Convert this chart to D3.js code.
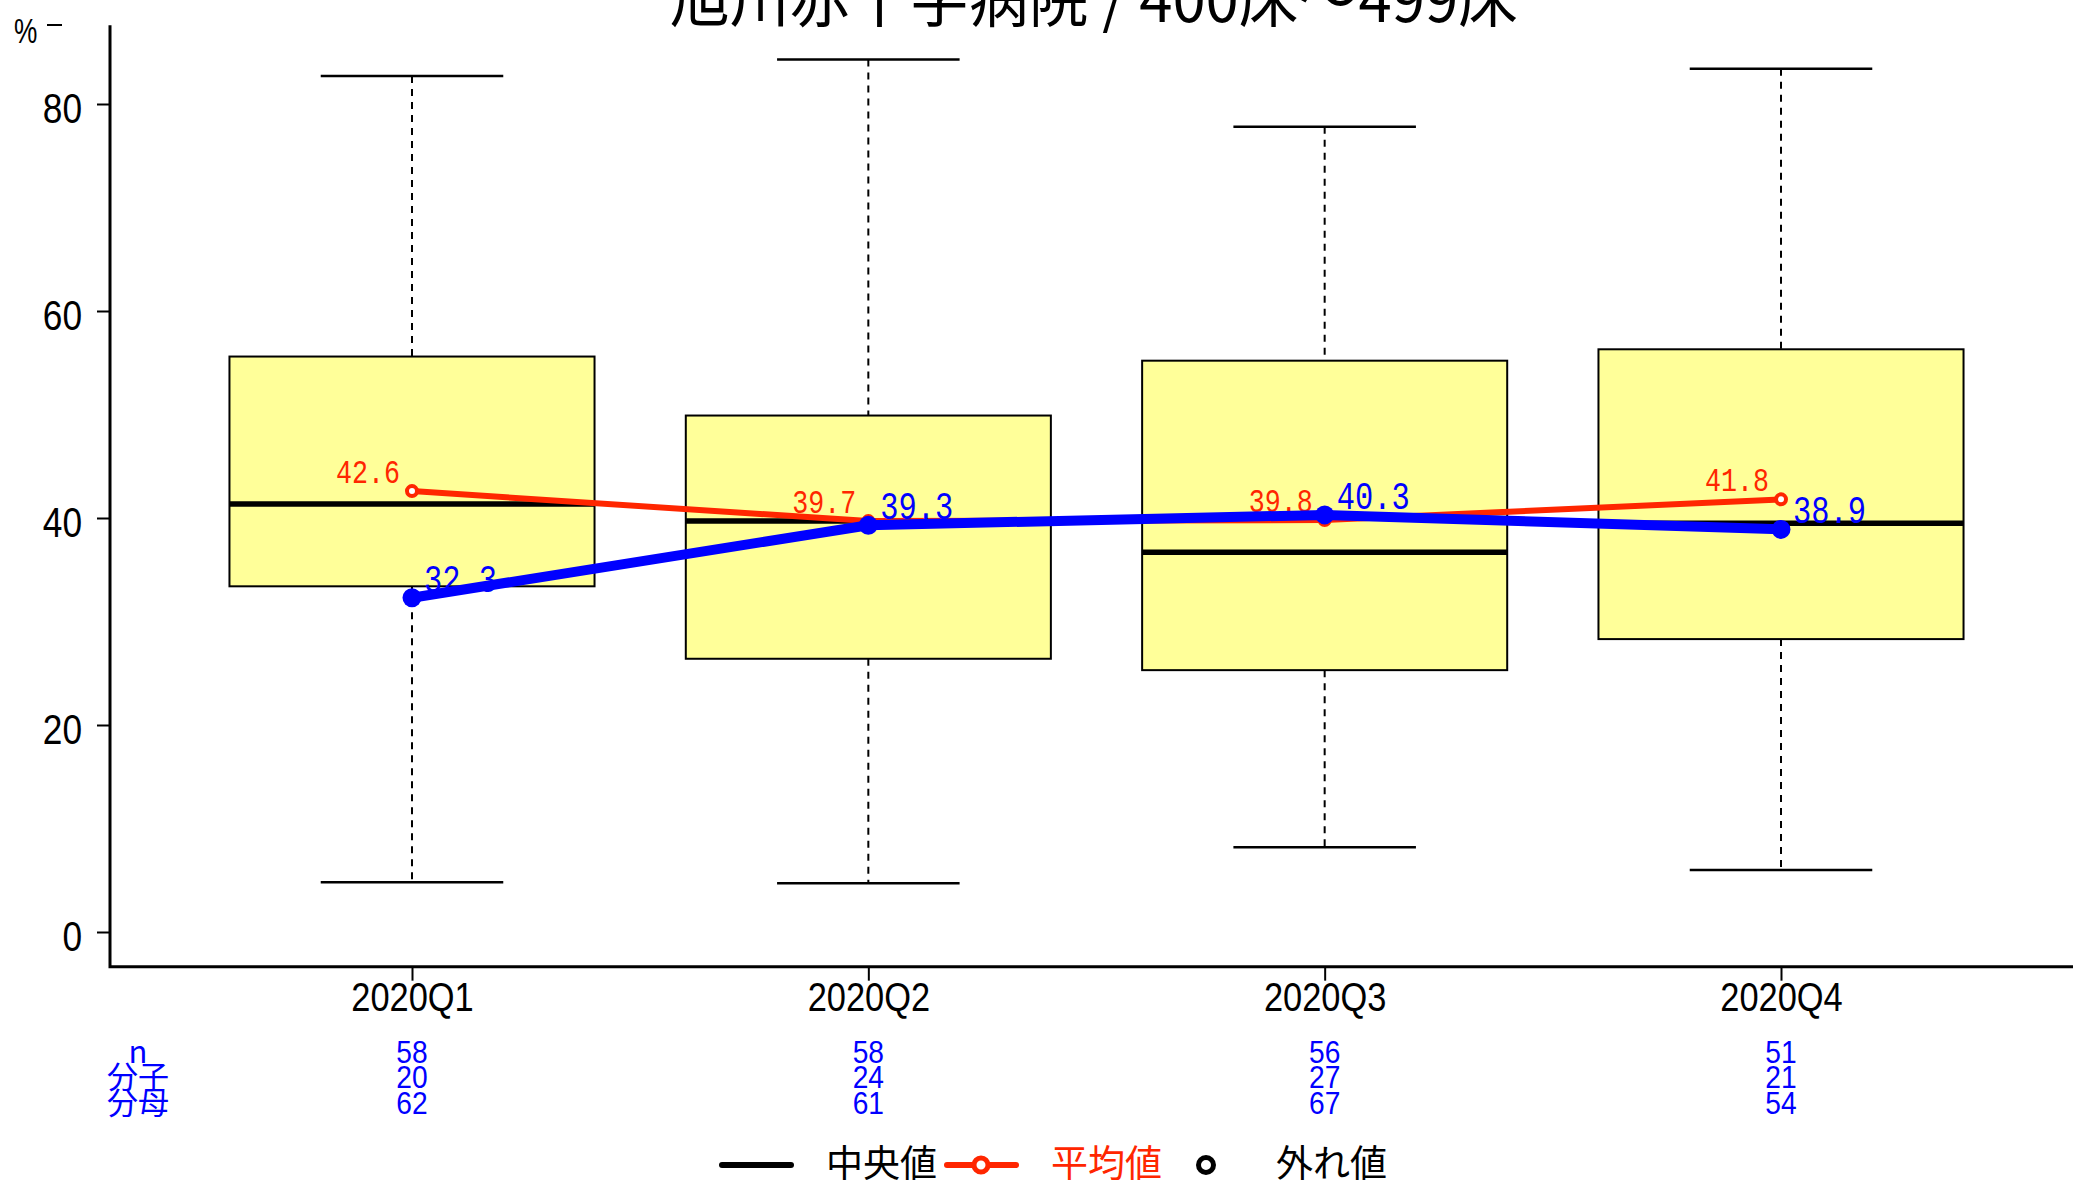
<!DOCTYPE html>
<html>
<head>
<meta charset="utf-8">
<script src="https://cdn.jsdelivr.net/npm/d3@7"></script>
<style>
html,body{margin:0;padding:0;background:#fff;overflow:hidden;}
svg{display:block;}
</style>
</head>
<body>
<script>
// ---- data ----
const title = "旭川赤十字病院 / 400床～499床";
const categories = ["2020Q1", "2020Q2", "2020Q3", "2020Q4"];
const whiskerLow = [4.8, 4.7, 8.2, 6.0];
const lowerQ = [33.4, 26.4, 25.3, 28.3];
const medians = [41.35, 39.7, 36.7, 39.5];
const upperQ = [55.6, 49.9, 55.2, 56.3];
const whiskerHigh = [82.7, 84.3, 77.8, 83.4];
const means = [42.6, 39.7, 39.8, 41.8];
const hospital = [32.3, 39.3, 40.3, 38.9];
const nCounts = [58, 58, 56, 51];
const numerators = [20, 24, 27, 21];
const denominators = [62, 61, 67, 54];
const yTicks = [0, 20, 40, 60, 80];
const rowLabels = ["n", "分子", "分母"];
const legendLabels = ["中央値", "平均値", "外れ値"];

// ---- layout ----
const W = 2073, H = 1186;
const SANS = "'Liberation Sans Narrow','Liberation Sans','Noto Sans CJK JP',sans-serif";
const CJK = "'Noto Sans CJK JP','Liberation Sans',sans-serif";
const MONO = "'Liberation Mono','DejaVu Sans Mono',monospace";
const RED = "#ff2600", BLUE = "#0000ff", BOXFILL = "#ffff99";

const svg = d3.select("body").append("svg").attr("width", W).attr("height", H);

// squeeze text horizontally to mimic a narrow face
function narrow(sel, factor) {
  sel.each(function () {
    const w = this.getComputedTextLength();
    if (w > 0) {
      d3.select(this).attr("textLength", w * factor).attr("lengthAdjust", "spacingAndGlyphs");
    }
  });
}

const x = d3.scaleLinear().domain([1, 4]).range([412, 1781]);
const y = d3.scaleLinear().domain([0, 80]).range([932, 104]);
const yLim = [-3.35, 87.6];
const xLeft = 110, xRight = W;
const idx = categories.map((c, i) => i);

// title
svg.append("text")
  .attr("x", 1094).attr("y", 22)
  .attr("text-anchor", "middle")
  .attr("font-family", CJK).attr("font-size", 62)
  .attr("textLength", 848).attr("lengthAdjust", "spacingAndGlyphs")
  .text(title);

// % label
svg.append("text").attr("x", 14).attr("y", 43)
  .attr("font-family", SANS).attr("font-size", 35).text("%")
  .call(narrow, 0.75);
svg.append("line").attr("x1", 47).attr("x2", 62).attr("y1", 25).attr("y2", 25)
  .attr("stroke", "#000").attr("stroke-width", 2);

// axes lines (L shape)
svg.append("path")
  .attr("d", `M${xLeft},${y(yLim[1])}V${y(yLim[0])}H${xRight}`)
  .attr("fill", "none").attr("stroke", "#000").attr("stroke-width", 3);

// y axis ticks
const yAxis = d3.axisLeft(y).tickValues(yTicks).tickSize(13).tickPadding(15).tickFormat(d3.format("d"));
const gy = svg.append("g").attr("transform", `translate(${xLeft},0)`).call(yAxis);
gy.select(".domain").remove();
gy.selectAll("line").attr("stroke-width", 2);
gy.selectAll("text").attr("font-family", SANS).attr("font-size", 43).attr("dy", "0.44em")
  .call(narrow, 0.82);

// x axis ticks
const xAxis = d3.axisBottom(x).tickValues([1, 2, 3, 4]).tickSize(14).tickPadding(2)
  .tickFormat((d) => categories[d - 1]);
const gx = svg.append("g").attr("transform", `translate(0,${y(yLim[0])})`).call(xAxis);
gx.select(".domain").remove();
gx.selectAll("line").attr("stroke-width", 2);
gx.selectAll("text").attr("font-family", SANS).attr("font-size", 40).attr("dy", "0.71em")
  .call(narrow, 0.86);

// boxplots
const bw = x(1.4) - x(1);   // half box width (0.8 units total)
const cw = x(1.2) - x(1);   // half cap width
const boxes = svg.append("g");
idx.forEach((i) => {
  const cx = x(i + 1);
  boxes.append("line").attr("x1", cx).attr("x2", cx)
    .attr("y1", y(whiskerHigh[i])).attr("y2", y(upperQ[i]))
    .attr("stroke", "#000").attr("stroke-width", 2).attr("stroke-dasharray", "7,6");
  boxes.append("line").attr("x1", cx).attr("x2", cx)
    .attr("y1", y(lowerQ[i])).attr("y2", y(whiskerLow[i]))
    .attr("stroke", "#000").attr("stroke-width", 2).attr("stroke-dasharray", "7,6");
  [whiskerHigh[i], whiskerLow[i]].forEach((v) => {
    boxes.append("line").attr("x1", cx - cw).attr("x2", cx + cw)
      .attr("y1", y(v)).attr("y2", y(v)).attr("stroke", "#000").attr("stroke-width", 2.5);
  });
  boxes.append("rect").attr("x", cx - bw).attr("width", 2 * bw)
    .attr("y", y(upperQ[i])).attr("height", y(lowerQ[i]) - y(upperQ[i]))
    .attr("fill", BOXFILL).attr("stroke", "#000").attr("stroke-width", 2);
  boxes.append("line").attr("x1", cx - bw).attr("x2", cx + bw)
    .attr("y1", y(medians[i])).attr("y2", y(medians[i]))
    .attr("stroke", "#000").attr("stroke-width", 5.5);
});

// mean line (red)
const line = d3.line().x((d, i) => x(i + 1)).y((d) => y(d));
svg.append("path").datum(means).attr("d", line)
  .attr("fill", "none").attr("stroke", RED).attr("stroke-width", 6);
svg.selectAll(".meanpt").data(means).enter().append("circle")
  .attr("cx", (d, i) => x(i + 1)).attr("cy", (d) => y(d)).attr("r", 5)
  .attr("fill", "#fff").attr("stroke", RED).attr("stroke-width", 4);
svg.selectAll(".meanlbl").data(means).enter().append("text")
  .attr("x", (d, i) => x(i + 1) - 12).attr("y", (d) => y(d) - 8)
  .attr("text-anchor", "end").attr("fill", RED)
  .attr("font-family", MONO).attr("font-size", 34)
  .attr("textLength", 64).attr("lengthAdjust", "spacingAndGlyphs")
  .text((d) => d.toFixed(1));

// hospital line (blue)
svg.append("path").datum(hospital).attr("d", line)
  .attr("fill", "none").attr("stroke", BLUE).attr("stroke-width", 10);
svg.selectAll(".hosppt").data(hospital).enter().append("circle")
  .attr("cx", (d, i) => x(i + 1)).attr("cy", (d) => y(d)).attr("r", 9.5)
  .attr("fill", BLUE);
svg.selectAll(".hosplbl").data(hospital).enter().append("text")
  .attr("x", (d, i) => x(i + 1) + 12).attr("y", (d) => y(d) - 6)
  .attr("text-anchor", "start").attr("fill", BLUE)
  .attr("font-family", MONO).attr("font-size", 39)
  .attr("textLength", 73).attr("lengthAdjust", "spacingAndGlyphs")
  .text((d) => d.toFixed(1));

// bottom table
const rowsY = [1063, 1088, 1114];
const rowsData = [nCounts, numerators, denominators];
rowLabels.forEach((lbl, r) => {
  svg.append("text").attr("x", 138).attr("y", rowsY[r])
    .attr("text-anchor", "middle").attr("fill", BLUE)
    .attr("font-family", CJK).attr("font-size", 31).text(lbl);
  svg.selectAll(".row" + r).data(rowsData[r]).enter().append("text")
    .attr("x", (d, i) => x(i + 1)).attr("y", rowsY[r])
    .attr("text-anchor", "middle").attr("fill", BLUE)
    .attr("font-family", SANS).attr("font-size", 32).text((d) => d)
    .call(narrow, 0.88);
});

// legend
const lg = svg.append("g");
const ly = 1165;
lg.append("line").attr("x1", 722).attr("x2", 791).attr("y1", ly).attr("y2", ly)
  .attr("stroke", "#000").attr("stroke-width", 6).attr("stroke-linecap", "round");
lg.append("text").attr("x", 826).attr("y", ly + 12).attr("font-family", CJK)
  .attr("font-size", 37).attr("fill", "#000").text(legendLabels[0]);
lg.append("line").attr("x1", 947).attr("x2", 1016).attr("y1", ly).attr("y2", ly)
  .attr("stroke", RED).attr("stroke-width", 6).attr("stroke-linecap", "round");
lg.append("circle").attr("cx", 981).attr("cy", ly).attr("r", 7)
  .attr("fill", "#fff").attr("stroke", RED).attr("stroke-width", 5);
lg.append("text").attr("x", 1051).attr("y", ly + 12).attr("font-family", CJK)
  .attr("font-size", 37).attr("fill", RED).text(legendLabels[1]);
lg.append("circle").attr("cx", 1206).attr("cy", ly).attr("r", 7.5)
  .attr("fill", "#fff").attr("stroke", "#000").attr("stroke-width", 5);
lg.append("text").attr("x", 1276).attr("y", ly + 12).attr("font-family", CJK)
  .attr("font-size", 37).attr("fill", "#000").text(legendLabels[2]);
</script>
</body>
</html>
